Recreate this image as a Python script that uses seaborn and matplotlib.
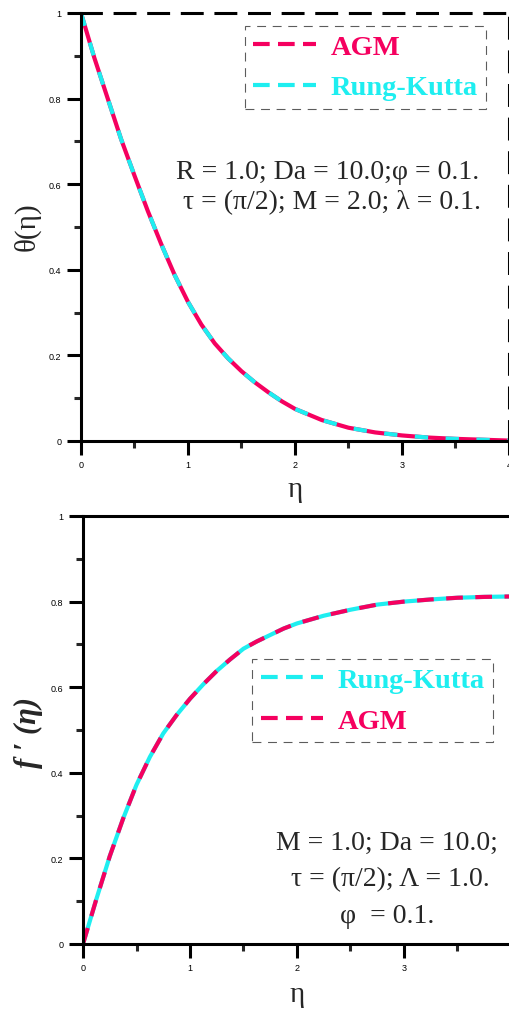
import numpy as np
import pandas as pd
import matplotlib
matplotlib.use('Agg')
import matplotlib.pyplot as plt
import seaborn as sns
from matplotlib.lines import Line2D
from matplotlib.ticker import MultipleLocator

# %% data

eta = [0, 0.125, 0.25, 0.375, 0.5, 0.625, 0.75, 0.875, 1.0, 1.125, 1.25, 1.375,
       1.5, 1.625, 1.75, 1.875, 2.0, 2.25, 2.5, 2.75, 3.0, 3.25, 3.5, 3.75, 4.0]

theta_agm = [1.0, 0.895, 0.80, 0.705, 0.62, 0.537, 0.46, 0.388, 0.325, 0.272, 0.228, 0.193,
             0.163, 0.137, 0.114, 0.093, 0.075, 0.049, 0.031, 0.02, 0.013, 0.008, 0.005,
             0.003, 0.001]
theta_rk = [1.0, 0.895, 0.80, 0.705, 0.62, 0.537, 0.46, 0.388, 0.325, 0.272, 0.228, 0.193,
            0.163, 0.137, 0.114, 0.093, 0.075, 0.049, 0.031, 0.02, 0.013, 0.008, 0.005,
            0.003, 0.001]

fp_agm = [0.0, 0.105, 0.205, 0.293, 0.372, 0.437, 0.492, 0.535, 0.573, 0.607, 0.638, 0.665,
          0.69, 0.707, 0.722, 0.737, 0.749, 0.767, 0.781, 0.793, 0.80, 0.805, 0.809,
          0.811, 0.812]
fp_rk = [0.0, 0.105, 0.205, 0.293, 0.372, 0.437, 0.492, 0.535, 0.573, 0.607, 0.638, 0.665,
         0.69, 0.707, 0.722, 0.737, 0.749, 0.767, 0.781, 0.793, 0.80, 0.805, 0.809,
         0.811, 0.812]

x_ticks = [0, 1, 2, 3, 4]
y_ticks = [0, 0.2, 0.4, 0.6, 0.8, 1.0]
y_ticklabels = ['0', '0.2', '0.4', '0.6', '0.8', '1']

PINK = '#F5005F'
CYAN = '#1EEEF0'
SERIF = ['Liberation Serif', 'DejaVu Serif']

# %% style

sns.set_style('ticks')
plt.rcParams['font.family'] = ['Liberation Sans', 'DejaVu Sans']

df_top = pd.DataFrame({'eta': eta, 'AGM': theta_agm, 'RK': theta_rk})
df_bot = pd.DataFrame({'eta': eta, 'AGM': fp_agm, 'RK': fp_rk})

fig = plt.figure(figsize=(5.1, 10.12), dpi=100)
ax1 = fig.add_axes([81 / 510, 1 - 442 / 1012, 428 / 510, 428 / 1012])
ax2 = fig.add_axes([83 / 510, 1 - 945 / 1012, 428 / 510, 428 / 1012])


def style_axes(ax):
    ax.set_xlim(0, 4)
    ax.set_ylim(0, 1)
    ax.set_xticks(x_ticks)
    ax.set_xticklabels([str(t) for t in x_ticks])
    ax.set_yticks(y_ticks)
    ax.set_yticklabels(y_ticklabels)
    ax.xaxis.set_minor_locator(MultipleLocator(0.5))
    ax.yaxis.set_minor_locator(MultipleLocator(0.1))
    ax.tick_params(which='major', direction='out', length=10, width=2.2,
                   labelsize=6.5, pad=4, colors='black')
    ax.tick_params(which='minor', direction='out', length=5, width=2.2)
    ax.tick_params(top=False, right=False, which='both')
    for s in ['left', 'bottom']:
        ax.spines[s].set_linewidth(2.2)
        ax.spines[s].set_color('black')
    ax.set_xlabel('')
    ax.set_ylabel('')


def dashed_legend(ax, handles, labels, colors, anchor):
    leg = ax.legend(handles, labels, loc='upper left', bbox_to_anchor=anchor,
                    borderaxespad=0, frameon=True, fancybox=False,
                    prop={'family': SERIF, 'weight': 'bold', 'size': 20.5},
                    handlelength=2.2, handletextpad=0.5, labelspacing=0.5,
                    borderpad=0.3)
    leg.get_frame().set_edgecolor('#333333')
    leg.get_frame().set_linewidth(0.8)
    leg.get_frame().set_linestyle((0, (8, 6)))
    for t, c in zip(leg.get_texts(), colors):
        t.set_color(c)
    return leg


h_agm = Line2D([], [], color=PINK, lw=3, dashes=(4, 2))
h_rk = Line2D([], [], color=CYAN, lw=3, dashes=(4, 2))

# --- top: theta ---
sns.lineplot(data=df_top, x='eta', y='AGM', ax=ax1, color=PINK, lw=3, legend=False)
sns.lineplot(data=df_top, x='eta', y='RK', ax=ax1, color=CYAN, lw=3, legend=False)
ax1.lines[1].set_dashes((3.2, 4.2))
style_axes(ax1)
for s in ['top', 'right']:
    ax1.spines[s].set_visible(True)
    ax1.spines[s].set_linewidth(2.2)
    ax1.spines[s].set_color('black')
    ax1.spines[s].set_linestyle((0, (6.5, 4.5)))

dashed_legend(ax1, [h_agm, h_rk], ['AGM', 'Rung-Kutta'], [PINK, CYAN], (0.383, 0.970))

fig.text(328 / 510, 1 - 188 / 1012, 'R = 1.0; Da = 10.0;φ = 0.1.\n τ = (π/2); M = 2.0; λ = 0.1.',
         ha='center', va='center', family=SERIF, fontsize=20, linespacing=1.27)
fig.text(27 / 510, 1 - 227 / 1012, 'θ(η)', rotation=90, ha='center', va='center',
         family=SERIF, fontsize=21)
fig.text(295 / 510, 1 - 490 / 1012, 'η', ha='center', va='center', family=SERIF, fontsize=21)

# --- bottom: f' ---
sns.lineplot(data=df_bot, x='eta', y='RK', ax=ax2, color=CYAN, lw=3, legend=False)
sns.lineplot(data=df_bot, x='eta', y='AGM', ax=ax2, color=PINK, lw=3, legend=False)
ax2.lines[1].set_dashes((4, 3))
style_axes(ax2)
ax2.spines['top'].set_visible(True)
ax2.spines['top'].set_linewidth(2.2)
ax2.spines['top'].set_color('black')
ax2.spines['right'].set_visible(True)
ax2.spines['right'].set_linewidth(0.8)
ax2.spines['right'].set_color('#cccccc')

dashed_legend(ax2, [h_rk, h_agm], ['Rung-Kutta', 'AGM'], [CYAN, PINK], (0.395, 0.666))

fig.text(387 / 510, 1 - 880 / 1012, 'M = 1.0; Da = 10.0;\n τ = (π/2); Λ = 1.0.\nφ  = 0.1.',
         ha='center', va='center', family=SERIF, fontsize=20, linespacing=1.6)
fig.text(28 / 510, 1 - 733 / 1012, 'f ′ (η)', rotation=90, ha='center', va='center',
         family=SERIF, fontsize=22, fontweight='bold', fontstyle='italic')
fig.text(297 / 510, 1 - 995 / 1012, 'η', ha='center', va='center', family=SERIF, fontsize=21)

fig.savefig('out.png', dpi=100)
